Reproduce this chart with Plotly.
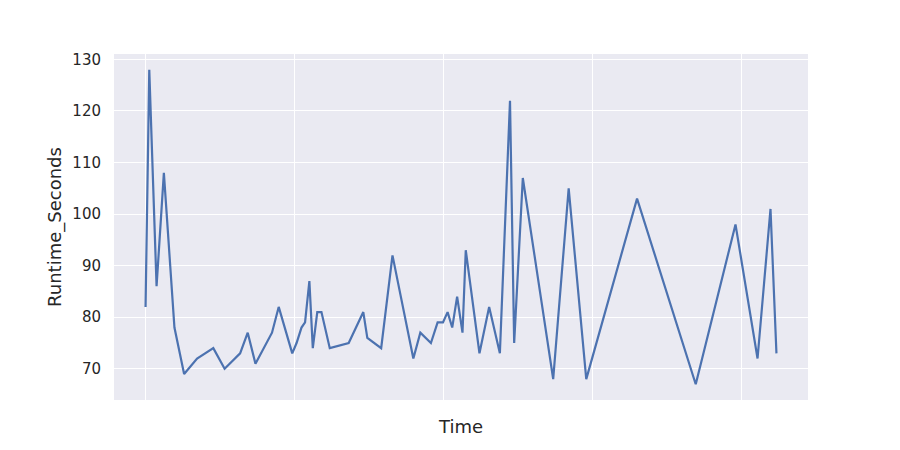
import plotly.graph_objects as go

time = [0.0, 0.25, 0.74, 1.23, 1.94, 2.59, 3.46, 4.55, 5.31, 6.35, 6.86, 7.38,
        8.49, 8.94, 9.85, 10.14, 10.47, 10.71, 11.0, 11.23, 11.53, 11.81, 12.37,
        13.64, 14.62, 14.89, 15.82, 16.58, 17.98, 18.45, 19.16, 19.61, 19.97,
        20.28, 20.59, 20.92, 21.28, 21.50, 22.42, 23.07, 23.79, 24.47, 24.75,
        25.33, 27.37, 28.41, 29.59, 33.0, 36.94, 39.61, 41.09, 41.96, 42.36]
runtime = [82, 128, 86, 108, 78, 69, 72, 74, 70, 73, 77, 71,
           77, 82, 73, 75, 78, 79, 87, 74, 81, 81, 74,
           75, 81, 76, 74, 92, 72, 77, 75, 79, 79,
           81, 78, 84, 77, 93, 73, 82, 73, 122, 75,
           107, 68, 105, 68, 103, 67, 98, 72, 101, 73]
x_grid = [0, 10, 20, 30, 40]
y_ticks = [70, 80, 90, 100, 110, 120, 130]

fig = go.Figure(go.Scatter(x=time, y=runtime, mode="lines",
                           line=dict(color="#4C72B0", width=2.2)))

span = max(time) - min(time)
yspan = max(runtime) - min(runtime)
fig.update_layout(
    width=900, height=450,
    margin=dict(l=106, r=100, t=46, b=58),
    paper_bgcolor="white", plot_bgcolor="#EAEAF2",
    font=dict(family="DejaVu Sans", size=15, color="#262626"),
    showlegend=False,
    xaxis=dict(title=dict(text="Time", standoff=20),
               range=[min(time) - 0.05 * span, max(time) + 0.05 * span],
               tickvals=x_grid, showticklabels=False,
               showgrid=True, gridcolor="white", gridwidth=1.4,
               zeroline=False, showline=False),
    yaxis=dict(title=dict(text="Runtime_Seconds", standoff=6),
               range=[min(runtime) - 0.05 * yspan, max(runtime) + 0.05 * yspan],
               tickvals=y_ticks, ticklabelstandoff=12,
               tickfont=dict(size=15),
               showgrid=True, gridcolor="white", gridwidth=1.4,
               zeroline=False, showline=False),
)
fig.write_html("out.html")
